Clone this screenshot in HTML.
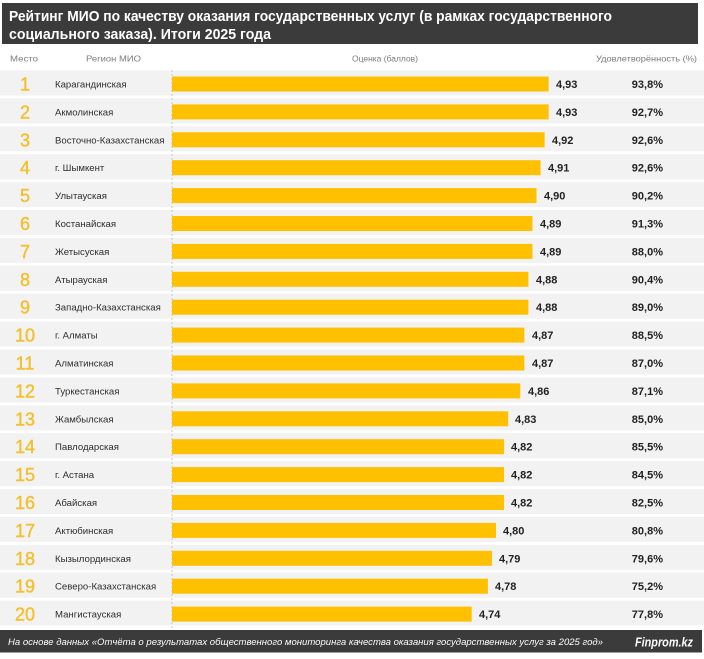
<!DOCTYPE html>
<html><head><meta charset="utf-8"><style>
html,body{margin:0;padding:0;background:#fff;}
svg{display:block;}
text{font-family:"Liberation Sans","DejaVu Sans",sans-serif;}
.rk{font-size:18px;fill:#f4c030;stroke:#f4c030;stroke-width:0.45;text-anchor:middle;}
.rg{font-size:9.6px;fill:#2e2e2e;}
.v{font-size:11px;font-weight:bold;fill:#222;}
.p{font-size:11px;font-weight:bold;fill:#222;text-anchor:end;}
.h{font-size:8.6px;fill:#7a7a7a;}
.band{fill:#f2f2f2;}
.bar{fill:#ffc000;}
</style></head><body>
<svg width="704" height="659" viewBox="0 0 704 659" xmlns="http://www.w3.org/2000/svg">
<rect x="0" y="0" width="704" height="659" fill="#fff"/>
<rect x="2" y="3" width="696" height="41" fill="#3b3b3b"/>
<text x="9" y="21" font-size="15" font-weight="bold" fill="#fff" textLength="603" lengthAdjust="spacingAndGlyphs">Рейтинг МИО по качеству оказания государственных услуг (в рамках государственного</text>
<text x="9" y="39" font-size="15" font-weight="bold" fill="#fff" textLength="262" lengthAdjust="spacingAndGlyphs">социального заказа). Итоги 2025 года</text>

<text class="h" x="10" y="61.5" textLength="28" lengthAdjust="spacingAndGlyphs">Место</text>
<text class="h" x="86" y="61.5" textLength="55" lengthAdjust="spacingAndGlyphs">Регион МИО</text>
<text class="h" x="352" y="61.5" textLength="66" lengthAdjust="spacingAndGlyphs">Оценка (баллов)</text>
<text class="h" x="596" y="61.5" textLength="101" lengthAdjust="spacingAndGlyphs">Удовлетворённость (%)</text>

<g>
<rect class="band" x="0" y="70.5" width="704" height="25"/>
<rect class="band" x="0" y="98.4" width="704" height="25"/>
<rect class="band" x="0" y="126.3" width="704" height="25"/>
<rect class="band" x="0" y="154.2" width="704" height="25"/>
<rect class="band" x="0" y="182.1" width="704" height="25"/>
<rect class="band" x="0" y="210" width="704" height="25"/>
<rect class="band" x="0" y="237.9" width="704" height="25"/>
<rect class="band" x="0" y="265.8" width="704" height="25"/>
<rect class="band" x="0" y="293.7" width="704" height="25"/>
<rect class="band" x="0" y="321.6" width="704" height="25"/>
<rect class="band" x="0" y="349.5" width="704" height="25"/>
<rect class="band" x="0" y="377.4" width="704" height="25"/>
<rect class="band" x="0" y="405.3" width="704" height="25"/>
<rect class="band" x="0" y="433.2" width="704" height="25"/>
<rect class="band" x="0" y="461.1" width="704" height="25"/>
<rect class="band" x="0" y="489" width="704" height="25"/>
<rect class="band" x="0" y="516.9" width="704" height="25"/>
<rect class="band" x="0" y="544.8" width="704" height="25"/>
<rect class="band" x="0" y="572.7" width="704" height="25"/>
<rect class="band" x="0" y="600.6" width="704" height="25"/>
</g>
<line x1="172" y1="70" x2="172" y2="628" stroke="#c8c8c8" stroke-width="1" stroke-dasharray="2,2"/>

<g>
<rect class="bar" x="172" y="76.5" width="376.65" height="15"/>
<rect class="bar" x="172" y="104.4" width="376.65" height="15"/>
<rect class="bar" x="172" y="132.3" width="372.6" height="15"/>
<rect class="bar" x="172" y="160.2" width="368.55" height="15"/>
<rect class="bar" x="172" y="188.1" width="364.5" height="15"/>
<rect class="bar" x="172" y="216" width="360.45" height="15"/>
<rect class="bar" x="172" y="243.9" width="360.45" height="15"/>
<rect class="bar" x="172" y="271.8" width="356.4" height="15"/>
<rect class="bar" x="172" y="299.7" width="356.4" height="15"/>
<rect class="bar" x="172" y="327.6" width="352.35" height="15"/>
<rect class="bar" x="172" y="355.5" width="352.35" height="15"/>
<rect class="bar" x="172" y="383.4" width="348.3" height="15"/>
<rect class="bar" x="172" y="411.3" width="336.15" height="15"/>
<rect class="bar" x="172" y="439.2" width="332.1" height="15"/>
<rect class="bar" x="172" y="467.1" width="332.1" height="15"/>
<rect class="bar" x="172" y="495" width="332.1" height="15"/>
<rect class="bar" x="172" y="522.9" width="324" height="15"/>
<rect class="bar" x="172" y="550.8" width="319.95" height="15"/>
<rect class="bar" x="172" y="578.7" width="315.9" height="15"/>
<rect class="bar" x="172" y="606.6" width="299.7" height="15"/>
</g>

<g>
<text class="rk" x="25" y="90.5">1</text>
<text class="rk" x="25" y="118.4">2</text>
<text class="rk" x="25" y="146.3">3</text>
<text class="rk" x="25" y="174.2">4</text>
<text class="rk" x="25" y="202.1">5</text>
<text class="rk" x="25" y="230">6</text>
<text class="rk" x="25" y="257.9">7</text>
<text class="rk" x="25" y="285.8">8</text>
<text class="rk" x="25" y="313.7">9</text>
<text class="rk" x="25" y="341.6">10</text>
<text class="rk" x="25" y="369.5">11</text>
<text class="rk" x="25" y="397.4">12</text>
<text class="rk" x="25" y="425.3">13</text>
<text class="rk" x="25" y="453.2">14</text>
<text class="rk" x="25" y="481.1">15</text>
<text class="rk" x="25" y="509">16</text>
<text class="rk" x="25" y="536.9">17</text>
<text class="rk" x="25" y="564.8">18</text>
<text class="rk" x="25" y="592.7">19</text>
<text class="rk" x="25" y="620.6">20</text>
</g>

<g>
<text class="rg" x="55" y="87.5">Карагандинская</text>
<text class="rg" x="55" y="115.4">Акмолинская</text>
<text class="rg" x="55" y="143.3">Восточно-Казахстанская</text>
<text class="rg" x="55" y="171.2">г. Шымкент</text>
<text class="rg" x="55" y="199.1">Улытауская</text>
<text class="rg" x="55" y="227">Костанайская</text>
<text class="rg" x="55" y="254.9">Жетысуская</text>
<text class="rg" x="55" y="282.8">Атырауская</text>
<text class="rg" x="55" y="310.7">Западно-Казахстанская</text>
<text class="rg" x="55" y="338.6">г. Алматы</text>
<text class="rg" x="55" y="366.5">Алматинская</text>
<text class="rg" x="55" y="394.4">Туркестанская</text>
<text class="rg" x="55" y="422.3">Жамбылская</text>
<text class="rg" x="55" y="450.2">Павлодарская</text>
<text class="rg" x="55" y="478.1">г. Астана</text>
<text class="rg" x="55" y="506">Абайская</text>
<text class="rg" x="55" y="533.9">Актюбинская</text>
<text class="rg" x="55" y="561.8">Кызылординская</text>
<text class="rg" x="55" y="589.7">Северо-Казахстанская</text>
<text class="rg" x="55" y="617.6">Мангистауская</text>
</g>

<g>
<text class="v" x="556" y="88">4,93</text>
<text class="v" x="556" y="115.9">4,93</text>
<text class="v" x="552" y="143.8">4,92</text>
<text class="v" x="548" y="171.7">4,91</text>
<text class="v" x="544" y="199.6">4,90</text>
<text class="v" x="540" y="227.5">4,89</text>
<text class="v" x="540" y="255.4">4,89</text>
<text class="v" x="536" y="283.3">4,88</text>
<text class="v" x="536" y="311.2">4,88</text>
<text class="v" x="532" y="339.1">4,87</text>
<text class="v" x="532" y="367">4,87</text>
<text class="v" x="528" y="394.9">4,86</text>
<text class="v" x="515" y="422.8">4,83</text>
<text class="v" x="511" y="450.7">4,82</text>
<text class="v" x="511" y="478.6">4,82</text>
<text class="v" x="511" y="506.5">4,82</text>
<text class="v" x="503" y="534.4">4,80</text>
<text class="v" x="499" y="562.3">4,79</text>
<text class="v" x="495" y="590.2">4,78</text>
<text class="v" x="479" y="618.1">4,74</text>
</g>

<g>
<text class="p" x="663" y="88">93,8%</text>
<text class="p" x="663" y="115.9">92,7%</text>
<text class="p" x="663" y="143.8">92,6%</text>
<text class="p" x="663" y="171.7">92,6%</text>
<text class="p" x="663" y="199.6">90,2%</text>
<text class="p" x="663" y="227.5">91,3%</text>
<text class="p" x="663" y="255.4">88,0%</text>
<text class="p" x="663" y="283.3">90,4%</text>
<text class="p" x="663" y="311.2">89,0%</text>
<text class="p" x="663" y="339.1">88,5%</text>
<text class="p" x="663" y="367">87,0%</text>
<text class="p" x="663" y="394.9">87,1%</text>
<text class="p" x="663" y="422.8">85,0%</text>
<text class="p" x="663" y="450.7">85,5%</text>
<text class="p" x="663" y="478.6">84,5%</text>
<text class="p" x="663" y="506.5">82,5%</text>
<text class="p" x="663" y="534.4">80,8%</text>
<text class="p" x="663" y="562.3">79,6%</text>
<text class="p" x="663" y="590.2">75,2%</text>
<text class="p" x="663" y="618.1">77,8%</text>
</g>

<rect x="0" y="630" width="702" height="22.5" fill="#3b3b3b"/>
<text x="8" y="645" font-size="9" font-style="italic" fill="#fff" textLength="595" lengthAdjust="spacingAndGlyphs">На основе данных «Отчёта о результатах общественного мониторинга качества оказания государственных услуг за 2025 год»</text>
<text x="635" y="646.5" font-size="13" font-style="italic" font-weight="bold" fill="#fff" textLength="58" lengthAdjust="spacingAndGlyphs">Finprom.kz</text>
</svg>
</body></html>
